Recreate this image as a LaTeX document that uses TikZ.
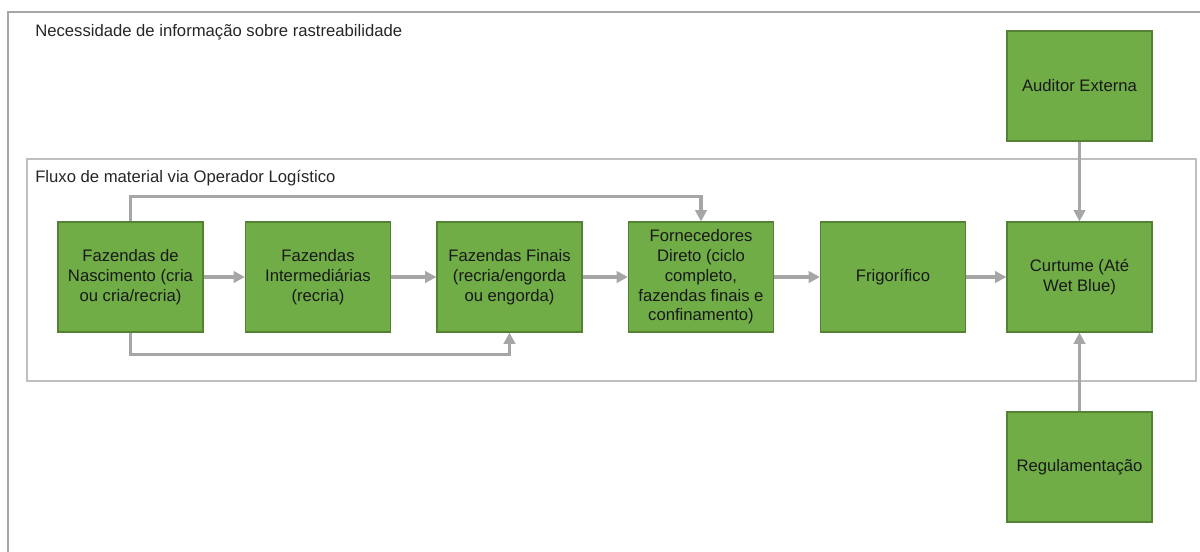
\documentclass[tikz,border=0pt]{standalone}
\usepackage{fontspec}
\setmainfont{Liberation Sans}
\usetikzlibrary{arrows.meta,positioning}
\definecolor{gc}{RGB}{112,173,71}
\definecolor{gb}{RGB}{84,130,53}
\definecolor{ac}{RGB}{166,166,166}
\definecolor{fc}{RGB}{191,191,191}
\tikzset{g/.style={draw=gb,fill=gc,line width=.8pt,minimum width=108.75pt,minimum height=82.5pt,inner sep=0pt,align=center,text=black!90},
 arr/.style={-{Triangle[length=8.5pt,width=8.5pt]},draw=ac,line width=2.8pt},
 frame/.style={draw=fc,line width=1.3pt},
 ttl/.style={anchor=west,inner sep=0pt,text=black!85},
 every node/.style={font=\fontsize{12.5}{14.8}\selectfont}}

\begin{document}
\begin{tikzpicture}[x=.75pt,y=-.75pt]
\clip (0,0) rectangle (1200,551);
% frames
\draw[frame,draw=ac] (8,12) rectangle (1230,580);\draw[frame] (27,159) rectangle (1196,381);
\node[ttl] (t1) at (35,32) {Necessidade de informação sobre rastreabilidade};
\node[ttl] (t2) at (35,178) {Fluxo de material via Operador Logístico};
% chain
\node[g] (fn) at (130.5,277) {Fazendas de\\Nascimento (cria\\ou cria/recria)};
\node[g] (fi) at (318,277) {Fazendas\\Intermediárias\\(recria)};
\node[g] (ff) at (509.5,277) {Fazendas Finais\\(recria/engorda\\ou engorda)};
\node[g] (fd) at (701,277) {Fornecedores\\Direto (ciclo\\completo,\\fazendas finais e\\confinamento)};
\node[g] (fr) at (893,277) {Frigorífico};
\node[g] (cu) at (1079.5,277) {Curtume (Até\\Wet Blue)};
\node[g] (au) at (1079.5,86) {Auditor Externa};
\node[g] (rg) at (1079.5,467) {Regulamentação};
\draw[arr] (fn)--(fi);\draw[arr] (fi)--(ff);\draw[arr] (ff)--(fd);\draw[arr] (fd)--(fr);\draw[arr] (fr)--(cu);
\draw[arr] (fn.north)--++(0,-25)-|(fd.north);\draw[arr] (fn.south)--++(0,22)-|(ff.south);
\draw[arr] (au)--(cu);\draw[arr] (rg)--(cu);
\end{tikzpicture}
\end{document}
